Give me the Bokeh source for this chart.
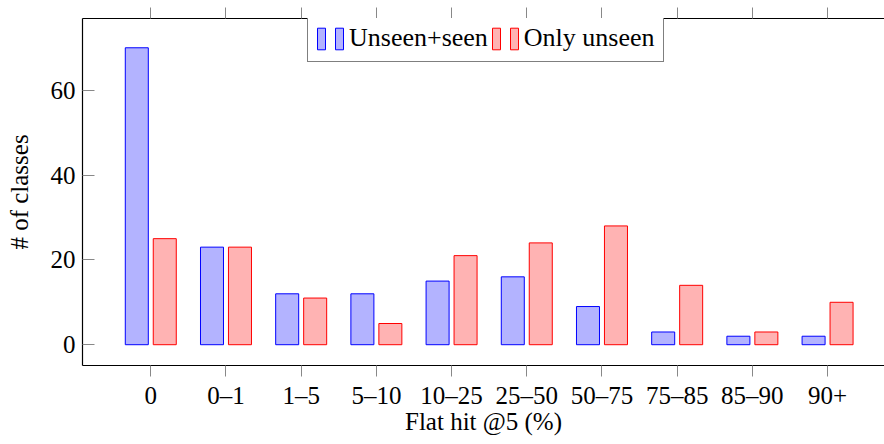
from bokeh.plotting import figure
from bokeh.models import (FixedTicker, LinearAxis, Range1d, Legend, LegendItem,
                          ColumnDataSource)
from bokeh.transform import dodge
from bokeh.core.properties import value
from bokeh.embed import file_html
from bokeh.resources import INLINE

# ---- data ----
categories = ["0", "0–1", "1–5", "5–10", "10–25", "25–50", "50–75", "75–85", "85–90", "90+"]
unseen_seen = [70, 23, 12, 12, 15, 16, 9, 3, 2, 2]
only_unseen = [25, 23, 11, 5, 21, 24, 28, 14, 3, 10]
y_ticks = [0, 20, 40, 60]
series_names = ["Unseen+seen", "Only unseen"]

FONT = "Liberation Serif"
idx = list(range(len(categories)))
src = ColumnDataSource(dict(x=idx, a=unseen_seen, b=only_unseen))

p = figure(width=884, height=444, output_backend="svg", toolbar_location=None,
           x_range=Range1d(-0.908, 9.757), y_range=Range1d(-4.9, 76.9),
           min_border_left=82, min_border_right=0, min_border_top=18,
           min_border_bottom=79)
p.outline_line_color = None
p.grid.visible = False
p.background_fill_color = "white"
p.border_fill_color = "white"

r1 = p.vbar(x=dodge('x', -0.186, range=p.x_range), top='a', width=0.306, source=src,
            fill_color="#b3b3ff", line_color="#0000ff", line_width=1)
r2 = p.vbar(x=dodge('x', 0.186, range=p.x_range), top='b', width=0.306, source=src,
            fill_color="#ffb3b3", line_color="#ff0000", line_width=1)

xa = p.xaxis[0]
xa.ticker = FixedTicker(ticks=idx)
xa.major_label_overrides = {i: c for i, c in enumerate(categories)}
xa.major_tick_out = 11
xa.major_tick_in = 0
xa.minor_tick_out = 0
xa.minor_tick_in = 0
xa.major_tick_line_color = "#888888"
xa.axis_line_color = "black"
xa.axis_line_width = 1.2
xa.major_label_standoff = 5
xa.major_label_text_font = FONT
xa.major_label_text_font_size = "25px"
xa.major_label_text_color = "black"
xa.axis_label = "Flat hit @5 (%)"
xa.axis_label_text_font = FONT
xa.axis_label_text_font_size = "25px"
xa.axis_label_text_font_style = "normal"
xa.axis_label_text_color = "black"
xa.axis_label_standoff = -4

# top axis: tick marks only (minor ticks carry no labels)
top = LinearAxis(ticker=FixedTicker(ticks=[], minor_ticks=idx),
                 major_tick_out=0, major_tick_in=0, minor_tick_out=11, minor_tick_in=0,
                 major_label_standoff=0, axis_line_color="black", axis_line_width=1.2,
                 minor_tick_line_color="#888888")
p.add_layout(top, "above")

ya = p.yaxis[0]
ya.ticker = FixedTicker(ticks=y_ticks)
ya.major_tick_in = 12
ya.major_tick_out = 0
ya.minor_tick_in = 0
ya.minor_tick_out = 0
ya.major_tick_line_color = "#888888"
ya.axis_line_color = "black"
ya.axis_line_width = 1.2
ya.major_label_standoff = 7
ya.major_label_text_font = FONT
ya.major_label_text_font_size = "25px"
ya.major_label_text_color = "black"
ya.axis_label = "# of classes"
ya.axis_label_text_font = FONT
ya.axis_label_text_font_size = "25px"
ya.axis_label_text_font_style = "normal"
ya.axis_label_text_color = "black"
ya.axis_label_standoff = 15

leg = Legend(items=[
    LegendItem(label=value(""), renderers=[r1]),
    LegendItem(label=value(series_names[0]), renderers=[r1]),
    LegendItem(label=value(""), renderers=[r2]),
    LegendItem(label=value(series_names[1]), renderers=[r2]),
], location=(225, 303), orientation="horizontal",
    glyph_width=10, glyph_height=27, label_standoff=5, spacing=3, padding=8, margin=0,
    label_width=0, label_height=0,
    border_line_color="black", border_line_width=1,
    background_fill_color="white", background_fill_alpha=1,
    label_text_font=FONT, label_text_font_size="26px", label_text_color="black")
p.add_layout(leg, "center")

open("out.html", "w").write(file_html(p, INLINE))
